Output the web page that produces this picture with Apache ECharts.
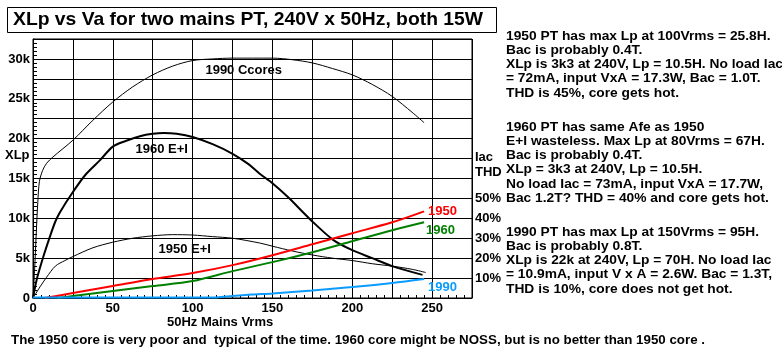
<!DOCTYPE html>
<html>
<head>
<meta charset="utf-8">
<script src="https://cdn.jsdelivr.net/npm/echarts@6/dist/echarts.min.js"></script>
<style>
html,body{margin:0;padding:0;background:#fff;}
#c{width:782px;height:358px;}
</style>
</head>
<body>
<div id="c"></div>
<script>
// ---- data (Va in Vrms, XLp in kOhm, THD in %) ----
const ccore1990 = [[0,0],[1,3.5],[2,8],[3,12],[4,14.6],[6,16],[8.5,16.9],[12.5,17.7],[25,19.8],[37.5,22.3],[50,24.6],[62.5,26.5],[75,28],[87.5,29.1],[100,29.8],[112.5,30],[125,30.1],[150,30.1],[162.5,29.9],[175,29.5],[187.5,28.8],[200,28],[212.5,26.8],[225,25.3],[237.5,23.3],[245,22]];
const ei1960 = [[0,0],[2.3,2.3],[6.5,5.2],[10.6,7.7],[14,9.6],[17,10.8],[25,13.3],[33,15.5],[42,17.3],[50,19],[58,19.7],[67,20.3],[75,20.6],[82,20.7],[90,20.6],[100,20.2],[112.5,19.3],[125,18.1],[135,16.8],[142,15.6],[150,14.4],[160,12.6],[174,9.8],[188,7.3],[200,6],[212.5,5],[225,4],[244,2.9]];
const ei1950 = [[0,0],[4.4,1.4],[8.5,2.6],[14,4.0],[20,4.7],[25,5.2],[37.5,6.3],[50,7.0],[62.5,7.5],[75,7.8],[87.5,7.95],[100,7.9],[112.5,7.7],[125,7.5],[142,6.9],[150,6.5],[162.5,5.9],[175,5.4],[187.5,5.0],[200,4.7],[212.5,4.3],[225,4.0],[237.5,3.6],[246,3.2]];
const thd1950 = [[7.5,0],[25,2.5],[50,6],[75,9.5],[100,12.5],[125,16.5],[150,21.5],[175,27],[200,32.5],[225,38],[245,43.5]];
const thd1960 = [[15,0],[25,1],[50,3.5],[75,6],[100,8.5],[125,13.5],[150,18],[175,23],[200,28.5],[225,34],[245,38]];
const thd1990 = [[0,0.2],[115,0.3],[125,1],[137,1.7],[150,2.3],[175,3.8],[200,5.5],[225,7.5],[245,9.5]];
const curveNames = ['1990 Ccores','1960 E+I','1950 E+I'];
const curveLabelPos = [[132,28.6],[80.6,18.7],[95,6.1]];
const thdNames = ['1950','1960','1990'];
const xTickLabels = [0,50,100,150,200,250];
const leftTickLabels = [0,5,10,15,20,25,30];
const rightTickLabels = [10,20,30,40,50];
const titleText = 'XLp vs Va for two mains PT, 240V x 50Hz, both 15W';
const notes = [
 ['1950 PT has max Lp at 100Vrms = 25.8H.','Bac is probably 0.4T.','XLp is 3k3 at 240V, Lp = 10.5H. No load Iac','= 72mA, input VxA = 17.3W, Bac = 1.0T.','THD is 45%, core gets hot.'],
 ['1960 PT has same Afe as 1950','E+I wasteless. Max Lp at 80Vrms = 67H.','Bac is probably 0.4T.','XLp = 3k3 at 240V, Lp = 10.5H.','No load Iac = 73mA, input VxA = 17.7W,','Bac 1.2T? THD = 40% and core gets hot.'],
 ['1990 PT has max Lp at 150Vrms = 95H.','Bac is probably 0.8T.','XLp is 22k at 240V, Lp = 70H. No load Iac','= 10.9mA, input V x A = 2.6W. Bac = 1.3T,','THD is 10%, core does not get hot.']
];
const footnote = 'The 1950 core is very poor and  typical of the time. 1960 core might be NOSS, but is no better than 1950 core .';

const SANS = "'Liberation Sans', Arial, sans-serif";
const RED = '#ff0000', GREEN = '#008000', BLUE = '#0a9bff';

// condensed look: measure and squeeze horizontally
const mctx = document.createElement('canvas').getContext('2d');
function measure(font, txt){ mctx.font = font; return mctx.measureText(txt).width; }
const NOTE_FONT = 'bold 13px ' + SANS;
const noteScale = 277 / measure(NOTE_FONT, notes[0][2]);
const FOOT_FONT = 'bold 13px ' + SANS;
const footScale = 694 / measure(FOOT_FONT, footnote);
const TITLE_FONT = 'bold 19px ' + SANS;
const titleScale = 470 / measure(TITLE_FONT, titleText);

const chart = echarts.init(document.getElementById('c'), null, {renderer:'canvas'});

function curveLabel(i){
  return {
    symbol:'circle', symbolSize:0, silent:true,
    label:{show:true, position:'inside', formatter:curveNames[i], color:'#000', fontWeight:'bold', fontSize:13, fontFamily:SANS},
    data:[{coord:curveLabelPos[i]}]
  };
}

const graphics = [];
// title box + text
graphics.push({type:'rect', silent:true, shape:{x:7.5, y:7.5, width:489, height:25}, style:{fill:'#fff', stroke:'#000', lineWidth:1}});
graphics.push({type:'text', x:13, y:20, scaleX:titleScale, silent:true, style:{text:titleText, font:TITLE_FONT, fill:'#000', textVerticalAlign:'middle', textAlign:'left'}});
const blockTops = [36, 127, 232];
notes.forEach((blk, b) => {
  blk.forEach((ln, i) => {
    graphics.push({type:'text', x:506, y:blockTops[b] + i*14.3, scaleX:noteScale, silent:true,
      style:{text:ln, font:NOTE_FONT, fill:'#000', textVerticalAlign:'middle', textAlign:'left'}});
  });
});
graphics.push({type:'text', left:5, top:149, silent:true, style:{text:'XLp', font:'bold 13px '+SANS, fill:'#000'}});
graphics.push({type:'text', left:475, top:151, silent:true, style:{text:'Iac', font:'bold 13px '+SANS, fill:'#000'}});
graphics.push({type:'text', left:475, top:166, silent:true, style:{text:'THD', font:'bold 13px '+SANS, fill:'#000'}});
graphics.push({type:'text', left:167, top:316, silent:true, style:{text:'50Hz Mains Vrms', font:'bold 13px '+SANS, fill:'#000'}});
graphics.push({type:'text', x:11, y:340, scaleX:footScale, silent:true, style:{text:footnote, font:FOOT_FONT, fill:'#000', textVerticalAlign:'middle', textAlign:'left'}});

chart.setOption({
  animation:false,
  backgroundColor:'#fff',
  grid:{left:33, top:39, width:439, height:259, show:true, borderColor:'#000', borderWidth:1, backgroundColor:'#fff'},
  xAxis:{type:'value', min:0, max:275, interval:25,
    axisLine:{show:true, lineStyle:{color:'#000', width:1}},
    axisTick:{show:true, inside:true, length:3, lineStyle:{color:'#000'}},
    minorTick:{show:true, splitNumber:5, length:3, lineStyle:{color:'#000'}},
    splitLine:{show:true, lineStyle:{color:'#000', width:1}},
    axisLabel:{margin:4, color:'#000', fontWeight:'bold', fontSize:13, fontFamily:SANS,
      formatter:v => xTickLabels.indexOf(Math.round(v)) >= 0 && Math.abs(v-Math.round(v))<1e-6 ? String(Math.round(v)) : ''}
  },
  yAxis:[{type:'value', min:0, max:32.5, interval:2.5,
    axisLine:{show:true, lineStyle:{color:'#000', width:1}},
    axisTick:{show:true, inside:true, length:4, lineStyle:{color:'#000'}},
    minorTick:{show:true, splitNumber:5, length:4, lineStyle:{color:'#000'}},
    splitLine:{show:true, lineStyle:{color:'#000', width:1}},
    axisLabel:{margin:3, color:'#000', fontWeight:'bold', fontSize:13, fontFamily:SANS,
      formatter:v => { const r = Math.round(v*10)/10; return leftTickLabels.indexOf(r) >= 0 ? (r === 0 ? '0' : r + 'k') : ''; }}
  },{type:'value', min:0, max:130, interval:10, position:'right',
    axisLine:{show:false}, axisTick:{show:false}, splitLine:{show:false},
    axisLabel:{margin:3, color:'#000', fontWeight:'bold', fontSize:13, fontFamily:SANS,
      formatter:v => rightTickLabels.indexOf(Math.round(v)) >= 0 ? Math.round(v) + '%' : ''}
  }],
  graphic:graphics,
  series:[
    {type:'line', name:curveNames[0], data:ccore1990, yAxisIndex:0, symbol:'none', smooth:0.3, lineStyle:{color:'#000', width:1}, markPoint:curveLabel(0), z:3},
    {type:'line', name:curveNames[1], data:ei1960, yAxisIndex:0, symbol:'none', smooth:0.3, lineStyle:{color:'#000', width:2}, markPoint:curveLabel(1), z:3},
    {type:'line', name:curveNames[2], data:ei1950, yAxisIndex:0, symbol:'none', smooth:0.3, lineStyle:{color:'#000', width:1}, markPoint:curveLabel(2), z:3},
    {type:'line', name:thdNames[0], data:thd1950, yAxisIndex:1, symbol:'none', smooth:0.3, lineStyle:{color:RED, width:2}, z:4,
      endLabel:{show:true, formatter:thdNames[0], color:RED, fontWeight:'bold', fontSize:13, fontFamily:SANS, distance:4, offset:[0,0]}},
    {type:'line', name:thdNames[1], data:thd1960, yAxisIndex:1, symbol:'none', smooth:0.3, lineStyle:{color:GREEN, width:2}, z:4,
      endLabel:{show:true, formatter:thdNames[1], color:GREEN, fontWeight:'bold', fontSize:13, fontFamily:SANS, distance:2, offset:[0,8]}},
    {type:'line', name:thdNames[2], data:thd1990, yAxisIndex:1, symbol:'none', smooth:0.3, lineStyle:{color:BLUE, width:2}, z:4,
      endLabel:{show:true, formatter:thdNames[2], color:BLUE, fontWeight:'bold', fontSize:13, fontFamily:SANS, distance:4, offset:[0,8]}}
  ]
});
</script>
</body>
</html>
